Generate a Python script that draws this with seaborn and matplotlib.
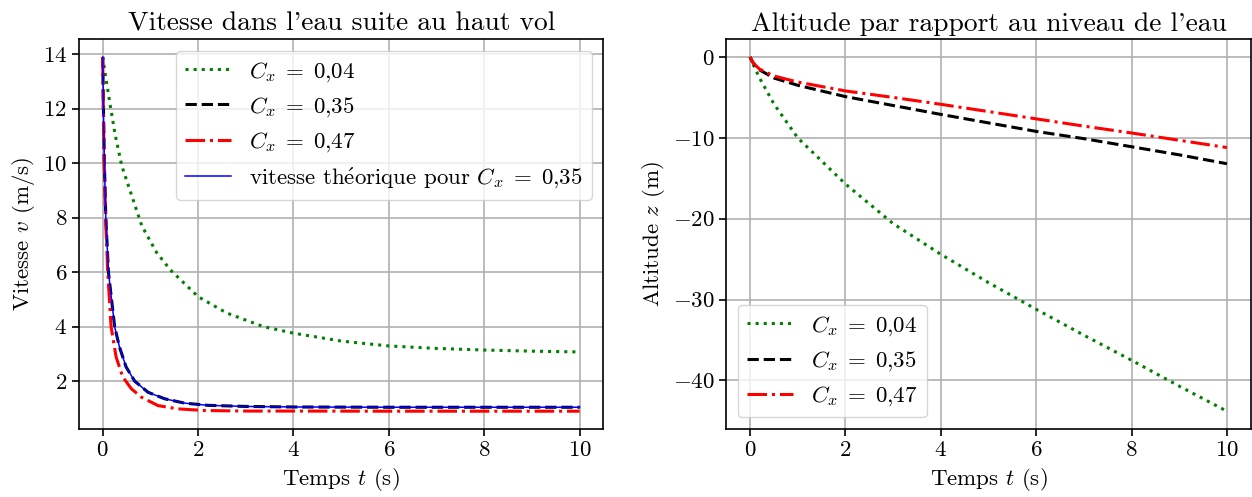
import numpy as np
import pandas as pd
import matplotlib
matplotlib.use("Agg")
import matplotlib.pyplot as plt
import seaborn as sns

# Look of a LaTeX figure: Computer Modern text and maths
plt.rcParams["font.family"] = ["cmr10", "DejaVu Serif"]
plt.rcParams["mathtext.fontset"] = "cm"
plt.rcParams["axes.formatter.use_mathtext"] = True
plt.rcParams["font.size"] = 16.5
plt.rcParams["axes.unicode_minus"] = True
plt.rcParams["axes.linewidth"] = 1.2
plt.rcParams["grid.linewidth"] = 1.2
plt.rcParams["xtick.major.width"] = 1.2
plt.rcParams["ytick.major.width"] = 1.2
plt.rcParams["xtick.major.size"] = 5
plt.rcParams["ytick.major.size"] = 5

# Data
# Speed in the water, v (m/s)
t_v_004 = [0, 0.05, 0.155, 0.26, 0.4, 0.61, 0.82, 1.13, 1.42, 2.0, 2.6, 3.37,
           4.0, 5.0, 6.0, 7.0, 8.0, 9.0, 10.0]
v_004 = [13.9, 13.3, 12.15, 11.05, 9.9, 8.8, 7.7, 6.72, 6.08, 5.1, 4.5, 4.0,
         3.76, 3.47, 3.29, 3.2, 3.14, 3.1, 3.07]

t_v_035 = [0, 0.015, 0.035, 0.065, 0.12, 0.25, 0.35, 0.49, 0.67, 0.95, 1.3,
           1.72, 2.21, 3.0, 4.0, 6.0, 8.0, 10.0]
v_035 = [13.9, 12.0, 10.0, 8.0, 6.0, 4.0, 3.26, 2.52, 2.0, 1.59, 1.35,
         1.19, 1.11, 1.07, 1.05, 1.04, 1.04, 1.04]

t_v_047 = [0, 0.012, 0.03, 0.06, 0.105, 0.175, 0.28, 0.42, 0.6, 0.81, 1.16,
           1.58, 2.14, 3.0, 4.0, 6.0, 8.0, 10.0]
v_047 = [13.9, 12.0, 10.0, 8.0, 6.0, 4.0, 2.89, 2.15, 1.72, 1.41, 1.1,
         0.98, 0.92, 0.9, 0.9, 0.895, 0.895, 0.895]

t_v_theo = [0, 0.015, 0.035, 0.065, 0.12, 0.25, 0.35, 0.49, 0.67, 0.95, 1.3,
            1.72, 2.21, 3.0, 4.0, 6.0, 8.0, 10.0]
v_theo = [13.9, 12.0, 10.0, 8.0, 6.0, 4.0, 3.26, 2.52, 2.0, 1.59, 1.35,
          1.19, 1.11, 1.07, 1.05, 1.04, 1.04, 1.04]

# Altitude z (m)
t_z = [0, 0.05, 0.1, 0.2, 0.5, 1, 2, 3, 4, 5, 6, 7, 8, 9, 10]
z_004 = [0, -0.7, -1.35, -2.6, -5.8, -10.0, -15.7, -20.6, -24.4, -27.9,
         -31.2, -34.4, -37.5, -40.7, -43.8]
z_035 = [0, -0.6, -1.0, -1.6, -2.6, -3.5, -4.9, -6.0, -7.1, -8.15,
         -9.2, -10.1, -11.1, -12.1, -13.2]
z_047 = [0, -0.55, -0.95, -1.5, -2.35, -3.1, -4.2, -5.0, -5.85, -6.75,
         -7.65, -8.55, -9.4, -10.3, -11.2]

lab_004 = r"$C_x\;=\;0{,}04$"
lab_035 = r"$C_x\;=\;0{,}35$"
lab_047 = r"$C_x\;=\;0{,}47$"
lab_theo = r"vitesse th$\acute{\mathrm{e}}$orique pour $C_x\;=\;0{,}35$"

fig, (ax1, ax2) = plt.subplots(1, 2, figsize=(12.52, 4.97), dpi=100)
fig.subplots_adjust(left=0.063, right=0.999, bottom=0.137, top=0.921, wspace=0.234)

LW = 2.2

# Left: speed
sns.lineplot(x=t_v_004, y=v_004, ax=ax1, color="green", linestyle=":", lw=LW,
             label=lab_004, estimator=None, sort=False)
sns.lineplot(x=t_v_035, y=v_035, ax=ax1, color="black", linestyle="--", lw=LW,
             label=lab_035, estimator=None, sort=False)
sns.lineplot(x=t_v_047, y=v_047, ax=ax1, color="red", linestyle="-.", lw=LW,
             label=lab_047, estimator=None, sort=False)
sns.lineplot(x=t_v_theo, y=v_theo, ax=ax1, color="blue", linestyle="-", lw=1.1,
             label=lab_theo, estimator=None, sort=False)
ax1.set_title("Vitesse dans l'eau suite au haut vol")
ax1.set_xlabel(r"Temps $t$ (s)")
ax1.set_ylabel(r"Vitesse $v$ (m/s)")
ax1.set_xticks([0, 2, 4, 6, 8, 10])
ax1.set_yticks([2, 4, 6, 8, 10, 12, 14])
ax1.grid(True)
ax1.legend(loc="upper right")

# Right: altitude
sns.lineplot(x=t_z, y=z_004, ax=ax2, color="green", linestyle=":", lw=LW,
             label=lab_004, estimator=None, sort=False)
sns.lineplot(x=t_z, y=z_035, ax=ax2, color="black", linestyle="--", lw=LW,
             label=lab_035, estimator=None, sort=False)
sns.lineplot(x=t_z, y=z_047, ax=ax2, color="red", linestyle="-.", lw=LW,
             label=lab_047, estimator=None, sort=False)
ax2.set_title("Altitude par rapport au niveau de l'eau")
ax2.set_xlabel(r"Temps $t$ (s)")
ax2.set_ylabel(r"Altitude $z$ (m)")
ax2.set_xticks([0, 2, 4, 6, 8, 10])
ax2.set_yticks([0, -10, -20, -30, -40])
ax2.grid(True)
ax2.legend(loc="lower left")

fig.savefig("out.png", dpi=100)
